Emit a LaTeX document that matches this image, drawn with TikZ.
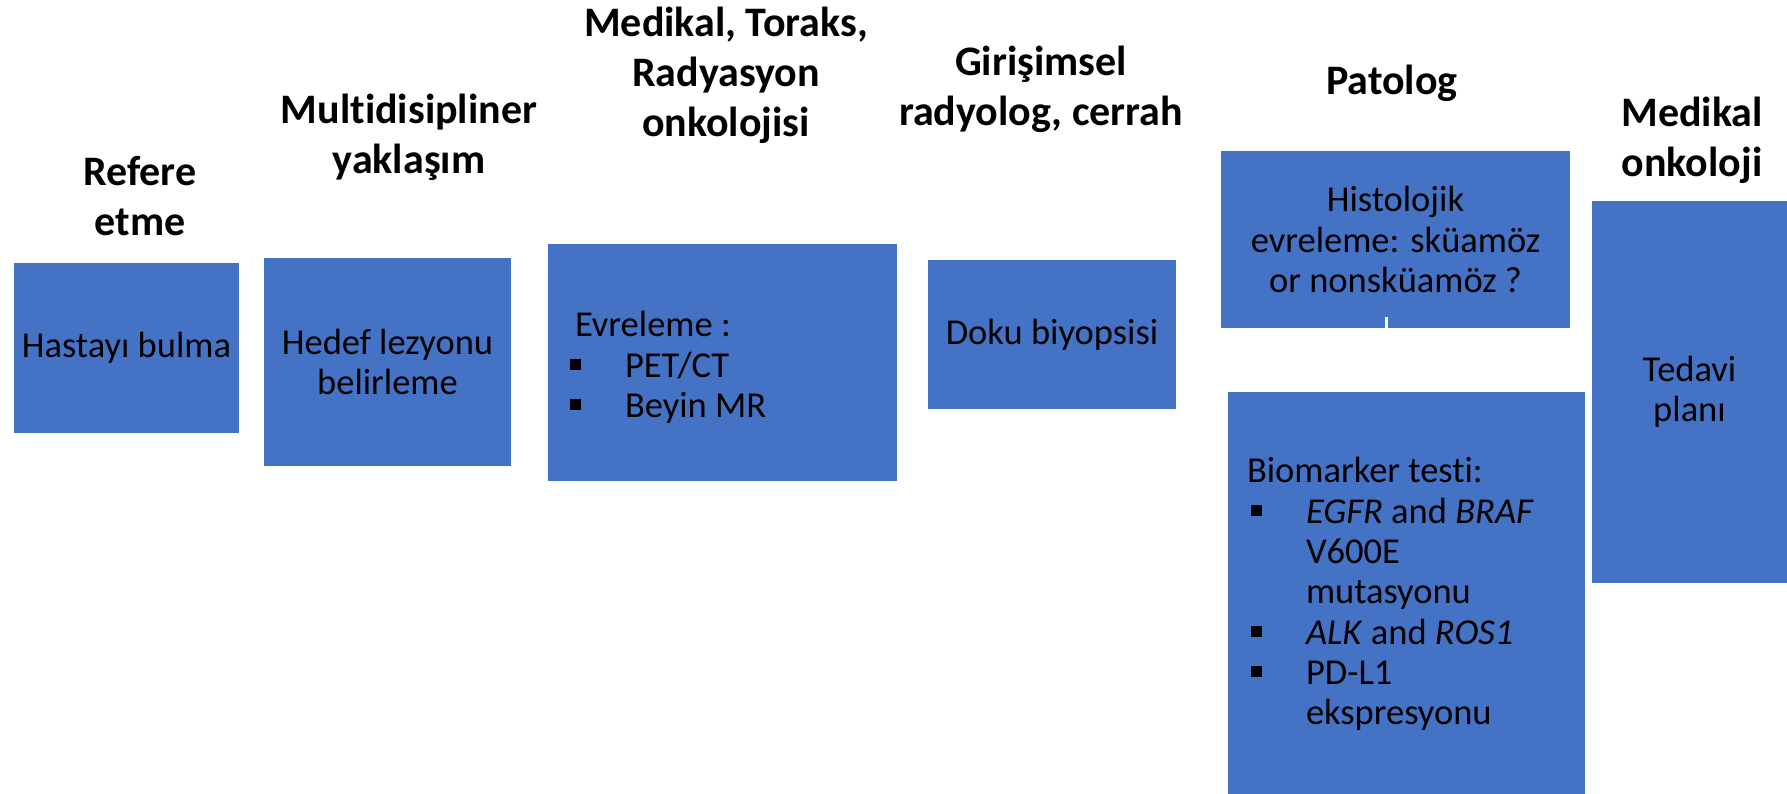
\documentclass[tikz,border=0pt]{standalone}
\usepackage{fontspec}
\setmainfont[Ligatures=NoCommon]{Carlito}
\usepackage{tikz}
\usetikzlibrary{positioning}

\definecolor{boxblue}{HTML}{4472C4}
\newcommand{\blt}[1][55pt]{\makebox[#1][l]{\rule[7pt]{11pt}{11pt}}}

\begin{document}
\begin{tikzpicture}[x=1pt,y=-1pt,
    panel/.style={fill=boxblue, inner sep=0pt, align=center,
        font=\fontsize{36.5}{40.3}\selectfont},
    listbox/.style={align=flush left},
    head/.style={inner sep=0pt, align=center, anchor=base,
        font=\fontsize{42}{50}\selectfont\bfseries}]
    \useasboundingbox (0,0) rectangle (1787,794);

    % column headers (anchored at the baseline of the last line)
    \node[head] at (140,236) (hrefer) {Refere\\etme};
    \node[head] at (409,174) (hmulti) {Multidisipliner\\yaklaşım};
    \node[head] at (726,137) (hstage) {Medikal, Toraks,\\Radyasyon\\onkolojisi};
    \node[head] at (1041,126) (hbiop) {Girişimsel\\radyolog, cerrah};
    \node[head] at (1392,95) (hpath) {Patolog};
    \node[head] at (1692,177) (honc) {Medikal\\onkoloji};

    % boxes
    \node[panel, minimum width=225pt, minimum height=170pt] at (126.5,348) (find) {Hastayı bulma};
    \node[panel, minimum width=247pt, minimum height=208pt] at (387.5,362) (target) {Hedef lezyonu\\belirleme};
    \node[panel, listbox, text width=305pt, minimum width=349pt, minimum height=237pt] at (722.5,362.5) (stage)
        {\rule{0pt}{35pt}\hspace*{5pt}Evreleme :\\\blt PET/CT\\\blt Beyin MR};
    \node[panel, minimum width=248pt, minimum height=149pt] at (1052,334.5) (biopsy) {Doku biyopsisi};
    \node[panel, minimum width=349pt, minimum height=177pt] at (1395.5,239.5) (histo)
        {Histolojik\\evreleme: sküamöz\\or nonsküamöz ?};
    \node[panel, listbox, text width=311pt, minimum width=357pt, minimum height=404pt] at (1406.5,594) (marker)
        {\hspace*{-4pt}Biomarker testi:\\\blt\textit{EGFR} and \textit{BRAF}\\\hspace*{55pt}V600E\\\hspace*{55pt}mutasyonu\\
         \blt\textit{ALK} and \textit{ROS1}\\\blt PD-L1\\\hspace*{55pt}ekspresyonu};
    \node[panel, minimum width=195pt, minimum height=382pt] at (1689.5,392) (plan) {Tedavi\\planı};

    % small white notch at the bottom of the histology box
    \fill[white] (1385,317) rectangle (1388,328);
\end{tikzpicture}
\end{document}
